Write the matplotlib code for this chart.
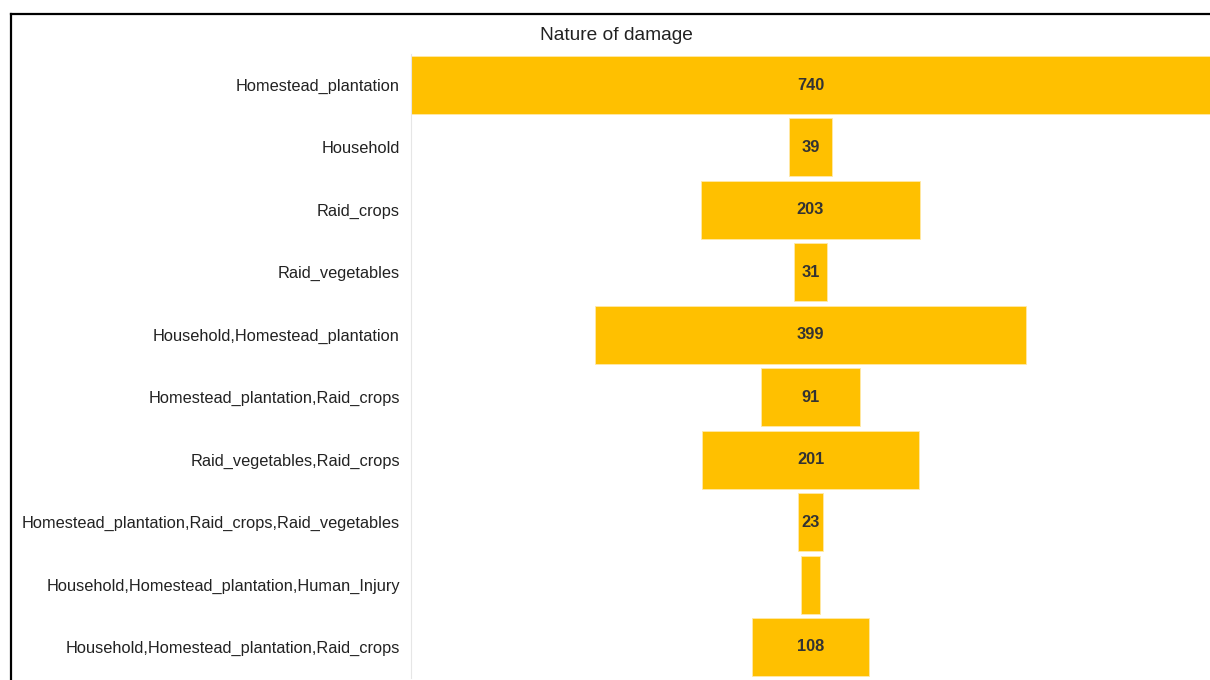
import matplotlib
matplotlib.use("Agg")
import matplotlib.pyplot as plt
from matplotlib.lines import Line2D

categories = [
    "Homestead_plantation",
    "Household",
    "Raid_crops",
    "Raid_vegetables",
    "Household,Homestead_plantation",
    "Homestead_plantation,Raid_crops",
    "Raid_vegetables,Raid_crops",
    "Homestead_plantation,Raid_crops,Raid_vegetables",
    "Household,Homestead_plantation,Human_Injury",
    "Household,Homestead_plantation,Raid_crops",
]
counts = [740, 39, 203, 31, 399, 91, 201, 23, 17, 108]
shown_labels = ["740", "39", "203", "31", "399", "91", "201", "23", "", "108"]

W, H = 1210, 680
fig = plt.figure(figsize=(W / 100, H / 100), dpi=100)
fig.patch.set_facecolor("white")

ax = fig.add_axes([411 / W, 1 - 678.2 / H, (W - 411) / W, (678.2 - 53.8) / H])
ax.set_facecolor("white")

ypos = list(range(len(categories)))
lefts = [-c / 2 for c in counts]
ax.barh(ypos, counts, left=lefts, height=0.93, color="#FFC000",
        edgecolor="#FFE9A8", linewidth=0.6)

for y, c, lab in zip(ypos, counts, shown_labels):
    if lab:
        ax.text(0, y, lab, ha="center", va="center", fontsize=11.8,
                fontweight="bold", color="#333333", family="Liberation Sans")

ax.set_xlim(-370, 370)
ax.set_ylim(len(categories) - 0.5, -0.5)
ax.set_xticks([])
ax.set_yticks(ypos)
ax.set_yticklabels(categories, fontsize=11.75, color="#222222", family="Liberation Sans")
ax.tick_params(axis="y", length=0, pad=8)
for s in ["top", "right", "bottom"]:
    ax.spines[s].set_visible(False)
ax.spines["left"].set_color("#E6E6E6")
ax.spines["left"].set_linewidth(0.8)

fig.text(616 / W, 1 - 35 / H, "Nature of damage", ha="center", va="center",
         fontsize=13.8, color="#222222", family="Liberation Sans")

# outer frame (top and left edges)
fig.add_artist(Line2D([10.5 / W, 1.0], [1 - 14 / H, 1 - 14 / H],
                      transform=fig.transFigure, color="black", linewidth=1.6))
fig.add_artist(Line2D([10.5 / W, 10.5 / W], [1 - 14 / H, 0],
                      transform=fig.transFigure, color="black", linewidth=1.6))

fig.savefig("out.png", dpi=100)
